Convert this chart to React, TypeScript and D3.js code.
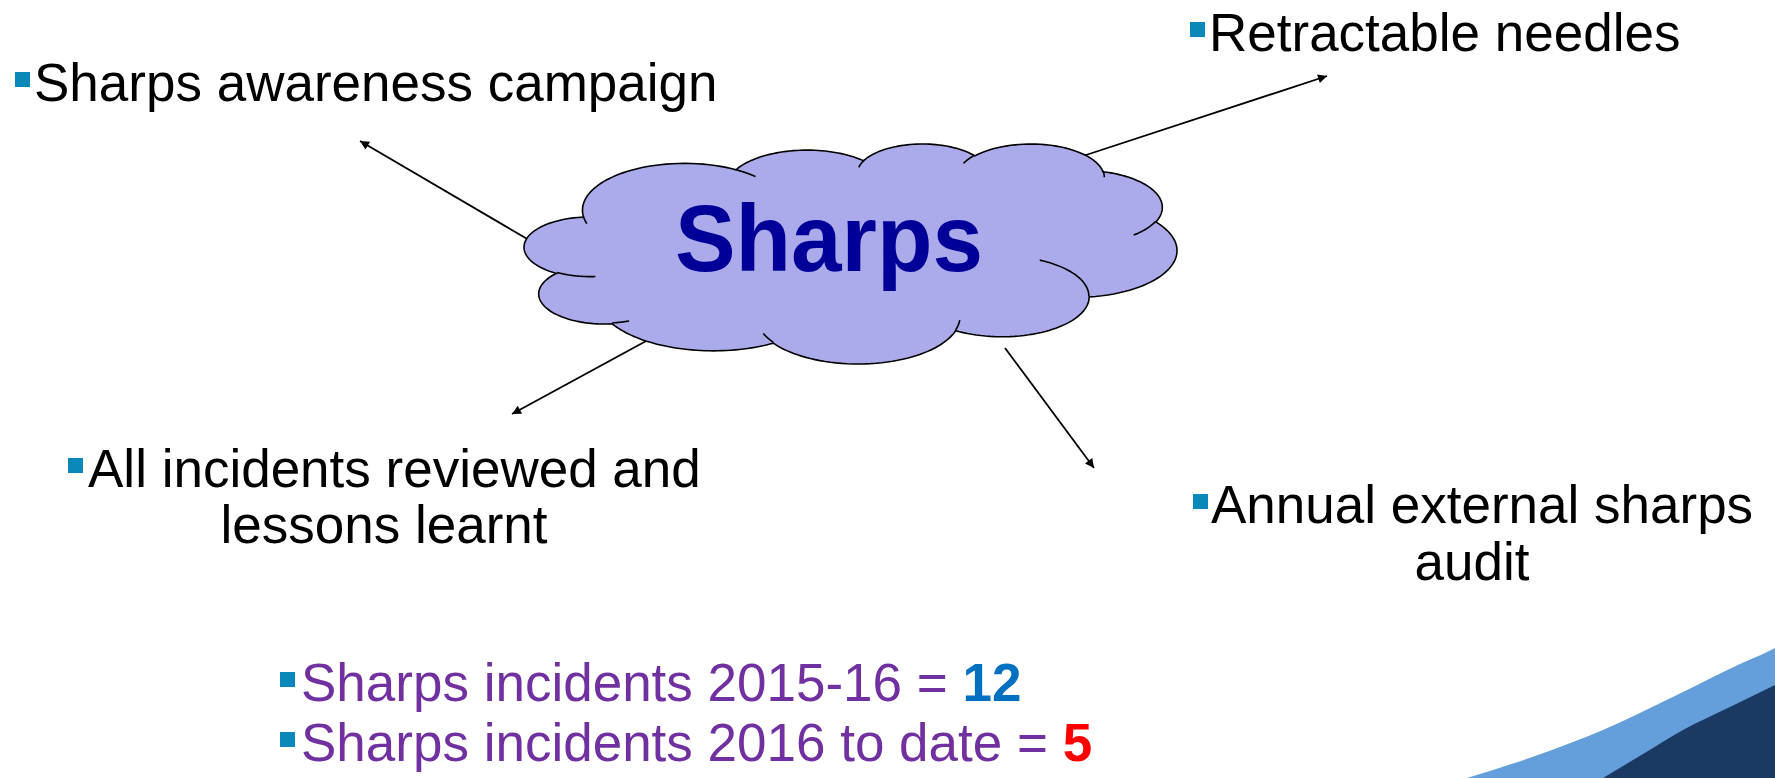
import React from 'react';
import * as d3 from 'd3';

const W = 1775;
const H = 778;

// ---- content ----
const centreLabel = 'Sharps';
const topicLines: string[][] = [
  ['Sharps awareness campaign'],
  ['Retractable needles'],
  ['All incidents reviewed and', 'lessons learnt'],
  ['Annual external sharps', 'audit'],
];
const statTexts = ['Sharps incidents 2015-16 = ', 'Sharps incidents 2016 to date = '];
const statValues = ['12', '5'];
const statValueColors = ['#0070C0', '#FF0000'];

// ---- layout ----
const FONT = "'Liberation Sans', Arial, Helvetica, sans-serif";
const FS = 53;
const topicLayout = [
  { bx: 15, tx: 34, y: 101, cx: 0 },
  { bx: 1190, tx: 1209, y: 51, cx: 0 },
  { bx: 68, tx: 88, y: 487, cx: 384, y2: 543 },
  { bx: 1193, tx: 1211, y: 523, cx: 1472, y2: 580 },
];
const statLayout = [
  { bx: 280, tx: 301, y: 701 },
  { bx: 280, tx: 301, y: 761 },
];
const arrows: [number, number, number, number][] = [
  [529, 240, 360, 141],
  [1083, 156, 1327, 76],
  [648, 340, 512, 414],
  [1005, 348, 1094, 468],
];
const cloudBox = { x0: 524, x1: 1177, y0: 144, y1: 364 };

// OOXML preset "cloud" geometry (43200 x 43200)
const cloudStart: [number, number] = [3900, 14370];
const cloudArcs: number[][] = [
  [6753, 9190, -11429249, 7426832],
  [5333, 7267, -8646143, 5396714],
  [4365, 5945, -8748475, 5983381],
  [4857, 6595, -7859164, 7034504],
  [5333, 7273, -4722533, 6541615],
  [6775, 9220, -2776035, 7816140],
  [5785, 7867, 37501, 6842000],
  [6752, 9215, 1347096, 6910353],
  [7720, 10543, 3974558, 4542661],
  [4360, 5918, -16496525, 8804134],
  [4345, 5945, -14809710, 9151131],
];
const cloudBumps: { p: [number, number]; a: number[] }[] = [
  { p: [4693, 26177], a: [4345, 5945, 5204520, 1585770] },
  { p: [6928, 34899], a: [4360, 5918, 4416628, 686848] },
  { p: [16478, 39090], a: [6752, 9215, 8257449, 844866] },
  { p: [28827, 34751], a: [6752, 9215, 387196, 959901] },
  { p: [34129, 22954], a: [5785, 7867, -4217541, 4255042] },
  { p: [41798, 15354], a: [5333, 7273, 1819082, 1665090] },
  { p: [38324, 5426], a: [4857, 6595, -824660, 891534] },
  { p: [29078, 3952], a: [4857, 6595, -8950887, 1091722] },
  { p: [22141, 4720], a: [4365, 5945, -9809656, 1061181] },
  { p: [14000, 5192], a: [6753, 9190, -4002417, 739161] },
  { p: [4127, 15789], a: [6753, 9190, 9459261, 711490] },
];

// corner decoration
const lightBand: [number, number][] = [
  [1467, 778], [1535, 756], [1603, 730], [1683, 692], [1740, 664], [1767, 652], [1775, 648],
];
const darkBand: [number, number][] = [
  [1603, 778], [1643, 754], [1683, 730], [1730, 707], [1775, 685],
];

function arcPoints(p0: [number, number], wR: number, hR: number, st: number, sw: number, n = 48) {
  const s = (st / 60000) * Math.PI / 180;
  const w = (sw / 60000) * Math.PI / 180;
  const e = (a: number): [number, number] => {
    const t = Math.atan2(wR * Math.sin(a), hR * Math.cos(a));
    return [wR * Math.cos(t), hR * Math.sin(t)];
  };
  const e0 = e(s);
  const cx = p0[0] - e0[0];
  const cy = p0[1] - e0[1];
  const pts: [number, number][] = [];
  for (let i = 1; i <= n; i++) {
    const q = e(s + (w * i) / n);
    pts.push([cx + q[0], cy + q[1]]);
  }
  return pts;
}

function buildCloud() {
  const outline: [number, number][] = [cloudStart];
  cloudArcs.forEach(([wR, hR, st, sw]) => {
    const last = outline[outline.length - 1];
    outline.push(...arcPoints(last, wR, hR, st, sw));
  });
  const bumps = cloudBumps.map(b => [b.p, ...arcPoints(b.p, b.a[0], b.a[1], b.a[2], b.a[3])] as [number, number][]);
  const xs = d3.extent(outline, d => d[0]) as [number, number];
  const ys = d3.extent(outline, d => d[1]) as [number, number];
  const sx = d3.scaleLinear().domain(xs).range([cloudBox.x0, cloudBox.x1]);
  const sy = d3.scaleLinear().domain(ys).range([cloudBox.y0, cloudBox.y1]);
  const line = d3.line<[number, number]>().x(d => sx(d[0])).y(d => sy(d[1]));
  return { outline: line(outline) + 'Z', bumps: bumps.map(b => line(b) as string) };
}

export default function App() {
  const cloud = buildCloud();
  const bandLine = d3.line<[number, number]>().x(d => d[0]).y(d => d[1]).curve(d3.curveMonotoneX);
  const lightPath = bandLine(lightBand) + `L${W},${H}Z`;
  const darkPath = bandLine(darkBand) + `L${W},${H}Z`;
  const bullet = (x: number, y: number, key: string) => (
    <rect key={key} x={x} y={y - 29} width={15} height={15} fill="#0A88B9" />
  );
  return (
    <svg width={W} height={H} style={{ position: 'absolute', left: 0, top: 0, background: '#fff' }}
      fontFamily={FONT}>
      <defs>
        <marker id="ah" viewBox="0 0 10 10" refX="10" refY="5" markerWidth="12" markerHeight="9"
          markerUnits="userSpaceOnUse" orient="auto">
          <path d="M0,0L10,5L0,10Z" fill="#000" />
        </marker>
      </defs>
      <rect width={W} height={H} fill="#fff" />
      <path d={lightPath} fill="#659FDB" />
      <path d={darkPath} fill="#1A3A63" />
      {arrows.map((a, i) => (
        <line key={i} x1={a[0]} y1={a[1]} x2={a[2]} y2={a[3]} stroke="#000" strokeWidth={1.8} markerEnd="url(#ah)" />
      ))}
      <path d={cloud.outline} fill="#ABABEB" stroke="#000" strokeWidth={1.6} />
      {cloud.bumps.map((d, i) => (
        <path key={i} d={d} fill="none" stroke="#000" strokeWidth={1.6} />
      ))}
      <text x={829} y={271} textAnchor="middle" fontSize={95} fontWeight="bold" fill="#000099"
        textLength={308} lengthAdjust="spacingAndGlyphs">{centreLabel}</text>
      {topicLines.map((lines, i) => {
        const L = topicLayout[i];
        return (
          <g key={i}>
            {bullet(L.bx, L.y, 'b' + i)}
            <text x={L.tx} y={L.y} fontSize={FS} fill="#000">{lines[0]}</text>
            {lines[1] && (
              <text x={L.cx} y={L.y2} fontSize={FS} fill="#000" textAnchor="middle">{lines[1]}</text>
            )}
          </g>
        );
      })}
      {statTexts.map((t, i) => {
        const L = statLayout[i];
        return (
          <g key={'s' + i}>
            {bullet(L.bx, L.y, 'sb' + i)}
            <text x={L.tx} y={L.y} fontSize={FS} fill="#7030A0">
              {t}
              <tspan fontWeight="bold" fill={statValueColors[i]}>{statValues[i]}</tspan>
            </text>
          </g>
        );
      })}
    </svg>
  );
}
